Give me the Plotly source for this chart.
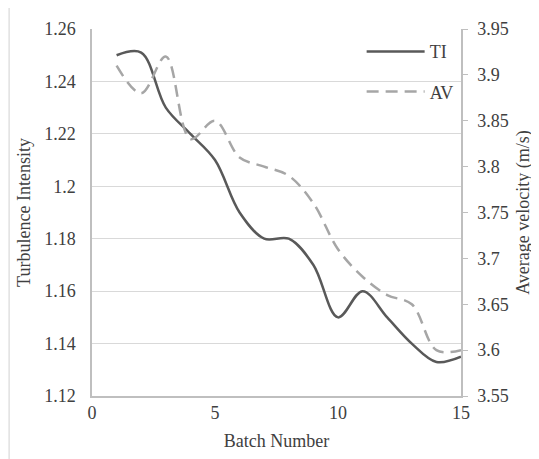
import plotly.graph_objects as go

batch = [1, 2, 3, 4, 5, 6, 7, 8, 9, 10, 11, 12, 13, 14, 15]
ti = [1.250, 1.251, 1.230, 1.220, 1.210, 1.190, 1.180, 1.180, 1.170, 1.150, 1.160, 1.150, 1.140, 1.133, 1.135]
av = [3.91, 3.88, 3.92, 3.83, 3.85, 3.81, 3.80, 3.79, 3.76, 3.71, 3.68, 3.66, 3.65, 3.60, 3.60]

x_ticks = [0, 5, 10, 15]
left_ticks = [1.12, 1.14, 1.16, 1.18, 1.20, 1.22, 1.24, 1.26]
left_labels = ["1.12", "1.14", "1.16", "1.18", "1.2", "1.22", "1.24", "1.26"]
right_ticks = [3.55, 3.60, 3.65, 3.70, 3.75, 3.80, 3.85, 3.90, 3.95]
right_labels = ["3.55", "3.6", "3.65", "3.7", "3.75", "3.8", "3.85", "3.9", "3.95"]

# page has an 8px body margin; build the figure in page coordinates minus that offset
OFF = 8
W, H = 539 - OFF, 459 - OFF
ML = 92 - OFF
MT = 29.3 - OFF
MR = W - (461.5 - OFF)
MB = H - (395.7 - OFF)
PW, PH = W - ML - MR, H - MT - MB

def px(x):
    return (x - OFF - ML) / PW

def py(y):
    return (H - MB - (y - OFF)) / PH

FONT = "Liberation Serif"
TXT = "#404040"
AXC = "#bfbfbf"
GRID = "#d9d9d9"

fig = go.Figure()
fig.add_trace(go.Scatter(
    x=batch, y=ti, name="TI", mode="lines",
    line=dict(color="#595959", width=2.5, shape="spline", smoothing=1),
    legend="legend",
))
fig.add_trace(go.Scatter(
    x=batch, y=av, name="AV", mode="lines", yaxis="y2",
    line=dict(color="#a6a6a6", width=2.5, shape="spline", smoothing=1, dash="12px,7px"),
    legend="legend2",
))

leg_common = dict(font=dict(family=FONT, size=18, color=TXT), bgcolor="rgba(0,0,0,0)",
                  borderwidth=0, itemwidth=58, xanchor="left", yanchor="middle")

fig.update_layout(
    width=W, height=H,
    margin=dict(l=ML, r=MR, t=MT, b=MB, autoexpand=False),
    paper_bgcolor="white", plot_bgcolor="white",
    font=dict(family=FONT, size=18, color=TXT),
    showlegend=True,
    legend=dict(x=px(362), y=py(52), **leg_common),
    legend2=dict(x=px(362), y=py(92), **leg_common),
    xaxis=dict(
        range=[0, 15], tickvals=x_ticks, ticktext=[str(v) for v in x_ticks],
        showgrid=False, zeroline=False, showline=True, linecolor=AXC, linewidth=1.5,
        ticks="", tickfont=dict(family=FONT, size=18, color=TXT), automargin=False,
        title=dict(text="Batch Number", font=dict(family=FONT, size=18, color=TXT), standoff=12),
    ),
    yaxis=dict(
        range=[1.12, 1.26], tickvals=left_ticks, ticktext=left_labels,
        showgrid=True, gridcolor=GRID, gridwidth=1.2, zeroline=False,
        showline=True, linecolor=AXC, linewidth=1.5, ticks="", automargin=False,
        ticklabelstandoff=11,
        tickfont=dict(family=FONT, size=18, color=TXT),
        title=dict(text="Turbulence Intensity", font=dict(family=FONT, size=18, color=TXT), standoff=9),
    ),
    yaxis2=dict(
        range=[3.55, 3.95], tickvals=right_ticks, ticktext=right_labels,
        overlaying="y", side="right", showgrid=False, zeroline=False,
        showline=True, linecolor=AXC, linewidth=1.5, automargin=False,
        ticks="outside", ticklen=5, tickcolor=AXC, tickwidth=1,
        ticklabelstandoff=6,
        tickfont=dict(family=FONT, size=18, color=TXT),
        title=dict(text="Average velocity (m/s)", font=dict(family=FONT, size=18, color=TXT), standoff=9),
    ),
)

# outer chart border (top and left visible)
fig.add_shape(type="rect", xref="paper", yref="paper",
              x0=px(9), x1=px(600), y0=py(520), y1=py(6),
              line=dict(color="#d9d9d9", width=1.2), fillcolor="rgba(0,0,0,0)", layer="below")

fig.write_html("out.html")
